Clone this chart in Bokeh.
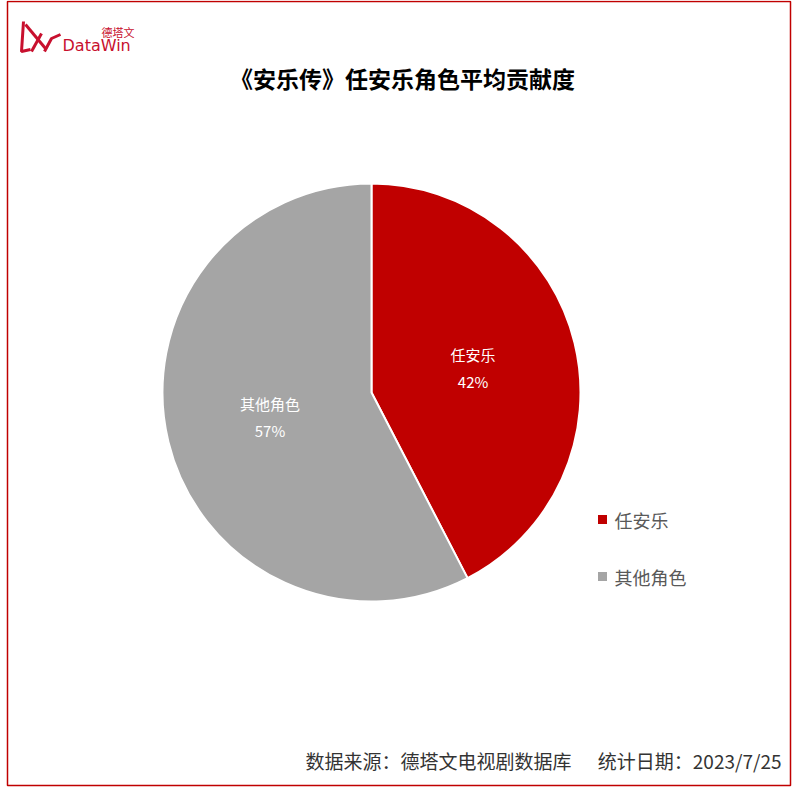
import math
from bokeh.plotting import figure
from bokeh.models import Range1d, BoxAnnotation, ColumnDataSource
from bokeh.core.properties import value
from bokeh.embed import file_html
from bokeh.resources import INLINE

# ---- data ----
title = "《安乐传》任安乐角色平均贡献度"
categories = ["任安乐", "其他角色"]
shares = [42.4, 57.6]
pct_labels = ["42%", "57%"]
colors = ["#C00000", "#A5A5A5"]
source_note = "数据来源：德塔文电视剧数据库"
date_note = "统计日期：2023/7/25"

W, H = 792, 788
FONT = "Noto Sans CJK SC"

def px(x):
    return x

def py(y):
    return H - y

p = figure(width=W, height=H, output_backend="svg", toolbar_location=None,
           x_range=Range1d(0, W), y_range=Range1d(0, H),
           x_axis_location=None, y_axis_location=None, min_border=0)
p.xgrid.visible = False
p.ygrid.visible = False
p.outline_line_color = None
p.background_fill_color = "white"

# border
p.add_layout(BoxAnnotation(left=px(7), right=px(790), bottom=py(785), top=py(1),
                           fill_alpha=0, line_color="#C00000", line_alpha=1.0, line_width=1.5))

# pie
cx, cy, r = px(371), py(392), 209
total = sum(shares)
starts, ends, mids = [], [], []
a = math.pi / 2
for s in shares:
    sweep = 2 * math.pi * s / total
    starts.append(a)
    ends.append(a - sweep)
    mids.append(a - sweep / 2)
    a -= sweep
src = ColumnDataSource(dict(start=starts, end=ends, color=colors))
p.wedge(x=cx, y=cy, radius=r, start_angle="start", end_angle="end", direction="clock",
        fill_color="color", line_color="white", line_width=2, source=src)

# slice labels
lr = 0.5 * r
lx = [cx + lr * math.cos(m) for m in mids]
ly = [cy + lr * math.sin(m) for m in mids]
p.text(x=lx, y=[y + 13.5 for y in ly], text=categories, text_color="white",
       text_font=value(FONT), text_font_size="15px", text_align="center", text_baseline="middle")
p.text(x=lx, y=[y - 13.5 for y in ly], text=pct_labels, text_color="white",
       text_font=value(FONT), text_font_size="15px", text_align="center", text_baseline="middle")

# legend
leg_y = [py(519), py(576)]
p.scatter(x=[px(602)] * 2, y=leg_y, marker="square", size=9, color=colors, line_color=None)
p.text(x=[px(614)] * 2, y=leg_y, text=categories, text_color="#595959",
       text_font=value(FONT), text_font_size="18px", text_align="left", text_baseline="middle")

# title
p.text(x=[px(402)], y=[py(77)], text=[title], text_color="black", text_font=value(FONT),
       text_font_size="23px", text_font_style="bold", text_align="center", text_baseline="middle")

# footer
p.text(x=[px(571)], y=[py(760)], text=[source_note], text_color="#333333", text_font=value(FONT),
       text_font_size="19px", text_align="right", text_baseline="middle")
p.text(x=[px(781)], y=[py(760)], text=[date_note], text_color="#333333", text_font=value(FONT),
       text_font_size="19px", text_align="right", text_baseline="middle")

# logo
logo_red = "#C8102E"
p.line(x=[px(23), px(21), px(30)], y=[py(21), py(51), py(49)], line_color=logo_red, line_width=3)
p.line(x=[px(25), px(45)], y=[py(24), py(48)], line_color=logo_red, line_width=3)
p.line(x=[px(41), px(31)], y=[py(33), py(51)], line_color=logo_red, line_width=3)
p.line(x=[px(44), px(51), px(60)], y=[py(51), py(38), py(34)], line_color=logo_red, line_width=3)
p.text(x=[px(62)], y=[py(45)], text=["DataWin"], text_color=logo_red, text_font=value("DejaVu Sans"),
       text_font_size="16px", text_align="left", text_baseline="middle")
p.text(x=[px(101)], y=[py(31)], text=["德塔文"], text_color=logo_red, text_font=value(FONT),
       text_font_size="11px", text_align="left", text_baseline="middle")

open("out.html", "w").write(file_html(p, INLINE))
